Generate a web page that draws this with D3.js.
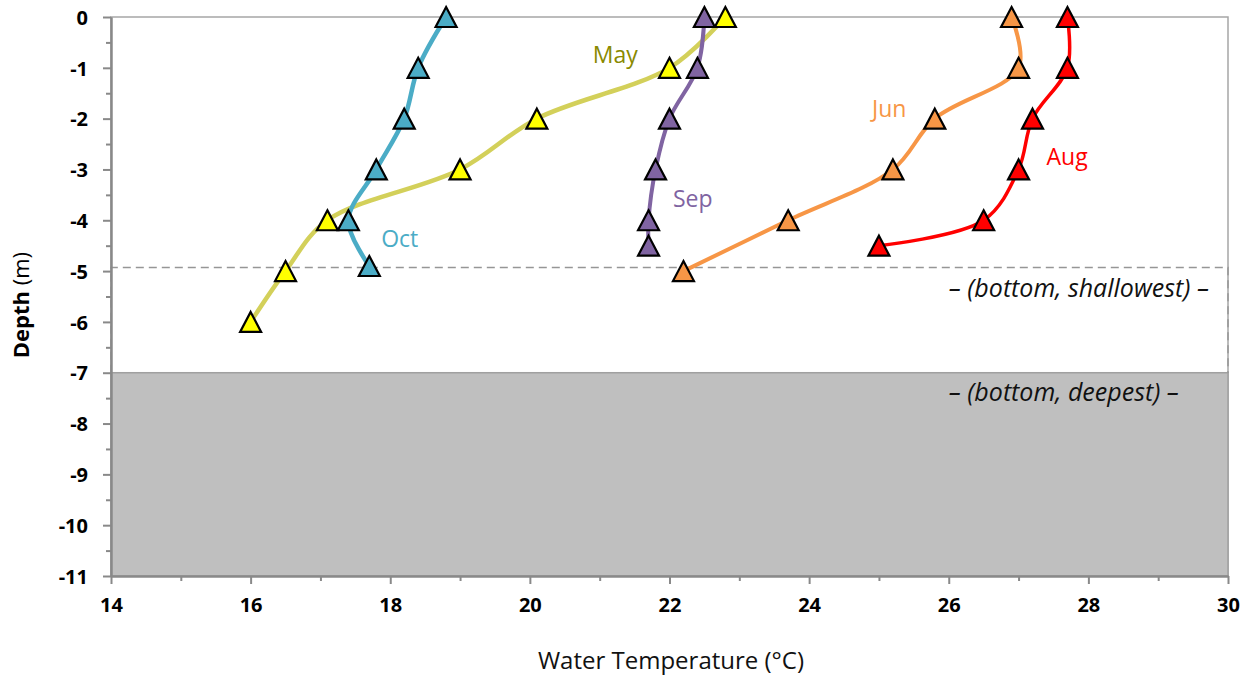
<!DOCTYPE html>
<html>
<head>
<meta charset="utf-8">
<script src="https://cdn.jsdelivr.net/npm/d3@7"></script>
<style>
  body { margin: 0; background: #fff; }
  svg text { font-family: "Open Sans", sans-serif; }
</style>
</head>
<body>
<div class="chart"></div>
<script>
// series, in drawing order
const months = ["May", "Jun", "Aug", "Sep", "Oct"];
const depthMay = [0, -1, -2, -3, -4, -5, -6];
const tempMay  = [22.8, 22.0, 20.1, 19.0, 17.1, 16.5, 16.0];
const depthJun = [0, -1, -2, -3, -4, -5];
const tempJun  = [26.9, 27.0, 25.8, 25.2, 23.7, 22.2];
const depthAug = [0, -1, -2, -3, -4, -4.5];
const tempAug  = [27.7, 27.7, 27.2, 27.0, 26.5, 25.0];
const depthSep = [0, -1, -2, -3, -4, -4.5];
const tempSep  = [22.5, 22.4, 22.0, 21.8, 21.7, 21.7];
const depthOct = [0, -1, -2, -3, -4, -4.9];
const tempOct  = [18.8, 18.4, 18.2, 17.8, 17.4, 17.7];

const xTicks = [14, 16, 18, 20, 22, 24, 26, 28, 30];
const yTicks = [0, -1, -2, -3, -4, -5, -6, -7, -8, -9, -10, -11];

const bottomShallow = -4.93;
const bottomDeep = -7;

// month labels placed in data units
const labelText  = ["May", "Jun", "Aug", "Sep", "Oct"];
const labelTemp  = [20.9, 24.9, 27.4, 22.05, 17.87];
const labelDepth = [-0.9, -1.97, -2.91, -3.74, -4.53];

const lineColor   = {May: "#d3d05a", Jun: "#f79646", Aug: "#ff0000", Sep: "#8064a2", Oct: "#4bacc6"};
const markerColor = {May: "#ffff00", Jun: "#f79646", Aug: "#ff0000", Sep: "#8064a2", Oct: "#4bacc6"};
const labelColor  = {May: "#8a8a00", Jun: "#f79646", Aug: "#ff0000", Sep: "#8064a2", Oct: "#4bacc6"};
const lineWidth   = {May: 4.5, Jun: 4, Aug: 3.5, Sep: 4, Oct: 4.5};

const series = {
  May: d3.zip(tempMay, depthMay),
  Jun: d3.zip(tempJun, depthJun),
  Aug: d3.zip(tempAug, depthAug),
  Sep: d3.zip(tempSep, depthSep),
  Oct: d3.zip(tempOct, depthOct)
};

let outerWidth = 1252, outerHeight = 678;
let margin = {top: 17, right: 24, bottom: 102, left: 111};
let width = outerWidth - margin.left - margin.right;   // 1117
let height = outerHeight - margin.top - margin.bottom; // 559

let svg = d3.select('.chart').append('svg')
    .attr('width', outerWidth)
    .attr('height', outerHeight)
  .append("g")
    .attr("transform", "translate(" + margin.left + "," + margin.top + ")");

const xScale = d3.scaleLinear().domain([14, 30]).range([0, width]);
const yScale = d3.scaleLinear().domain([-11, 0]).range([height, 0]);

// plot area border
svg.append("rect")
    .attr("x", 0).attr("y", 0)
    .attr("width", width).attr("height", height)
    .attr("fill", "none")
    .attr("stroke", "#a6a6a6")
    .attr("stroke-width", 1.5);

// deepest bottom (grey block)
svg.append("rect")
    .attr("x", xScale(14))
    .attr("y", yScale(bottomDeep))
    .attr("width", xScale(30) - xScale(14))
    .attr("height", yScale(-11) - yScale(bottomDeep))
    .attr("fill", "#bfbfbf")
    .attr("stroke", "#a0a0a0")
    .attr("stroke-width", 1.5);

// shallowest bottom (dashed outline)
svg.append("path")
    .attr("d", d3.line()([
      [xScale(14), yScale(bottomDeep)],
      [xScale(14), yScale(bottomShallow)],
      [xScale(30), yScale(bottomShallow)],
      [xScale(30), yScale(bottomDeep)]
    ]))
    .attr("fill", "none")
    .attr("stroke", "#969696")
    .attr("stroke-width", 1.5)
    .attr("stroke-dasharray", "8,5");

svg.append("text")
    .attr("x", xScale(26.0))
    .attr("y", yScale(-5.51))
    .attr("font-size", 25)
    .attr("font-style", "italic")
    .attr("fill", "#111")
    .text("\u2013 (bottom, shallowest) \u2013");

svg.append("text")
    .attr("x", xScale(26.0))
    .attr("y", yScale(-7.56))
    .attr("font-size", 25)
    .attr("font-style", "italic")
    .attr("fill", "#111")
    .text("\u2013 (bottom, deepest) \u2013");

// axes: minor ticks first, then major with labels
let yMinor = d3.axisLeft(yScale)
    .tickValues(d3.range(-10.5, 0, 1))
    .tickSize(5).tickSizeOuter(0).tickFormat("");
let xMinor = d3.axisBottom(xScale)
    .tickValues(d3.range(15, 30, 2))
    .tickSize(5).tickSizeOuter(0).tickFormat("");

svg.append("g").attr("class", "axis minor").call(yMinor);
svg.append("g").attr("class", "axis minor")
    .attr("transform", `translate(0, ${height})`).call(xMinor);

let yAxis = d3.axisLeft(yScale)
    .tickValues(yTicks)
    .tickSize(8).tickSizeOuter(0).tickPadding(15)
    .tickFormat(d => String(d));
let xAxis = d3.axisBottom(xScale)
    .tickValues(xTicks)
    .tickSize(8).tickSizeOuter(0).tickPadding(14)
    .tickFormat(d => String(d));

svg.append("g").attr("class", "axis y-axis").call(yAxis);
svg.append("g").attr("class", "axis x-axis")
    .attr("transform", `translate(0, ${height})`).call(xAxis);

svg.selectAll(".axis path, .axis line")
    .attr("stroke", "#898989")
    .attr("stroke-width", 2);
svg.selectAll(".axis text")
    .attr("font-family", "'Open Sans', sans-serif")
    .attr("font-size", 20)
    .attr("font-weight", "bold")
    .attr("fill", "#000");
svg.selectAll(".y-axis text").attr("dy", "0.36em");

// axis titles
svg.append("text")
    .attr("x", width / 2 + 1.5)
    .attr("y", height + 93)
    .attr("text-anchor", "middle")
    .attr("font-size", 24)
    .attr("fill", "#111")
    .text("Water Temperature (\u00b0C)");

let yTitle = svg.append("text")
    .attr("transform", `translate(${29 - margin.left}, ${yScale(-5.67)}) rotate(-90)`)
    .attr("text-anchor", "middle")
    .attr("font-size", 22)
    .attr("fill", "#000");
yTitle.append("tspan").attr("font-weight", "bold").text("Depth");
yTitle.append("tspan").text(" (m)");

// profiles
let line = d3.line()
    .x(d => xScale(d[0]))
    .y(d => yScale(d[1]))
    .curve(d3.curveCatmullRom.alpha(0.5));

let triangle = "M0,-10 L10.5,10 L-10.5,10 Z";

months.forEach(m => {
  svg.append("path")
      .datum(series[m])
      .attr("d", line)
      .attr("fill", "none")
      .attr("stroke", lineColor[m])
      .attr("stroke-width", lineWidth[m])
      .attr("stroke-linejoin", "round");

  svg.selectAll(".mk-" + m)
      .data(series[m])
      .enter()
      .append("path")
      .attr("class", "mk-" + m)
      .attr("d", triangle)
      .attr("transform", d => `translate(${xScale(d[0])}, ${yScale(d[1])})`)
      .attr("fill", markerColor[m])
      .attr("stroke", "#000")
      .attr("stroke-width", 2.2)
      .attr("stroke-linejoin", "miter");
});

// month labels
svg.selectAll(".month-label")
    .data(labelText)
    .enter()
    .append("text")
    .attr("class", "month-label")
    .attr("x", (d, i) => xScale(labelTemp[i]))
    .attr("y", (d, i) => yScale(labelDepth[i]))
    .attr("font-size", 23)
    .attr("fill", d => labelColor[d])
    .text(d => d);
</script>
</body>
</html>
